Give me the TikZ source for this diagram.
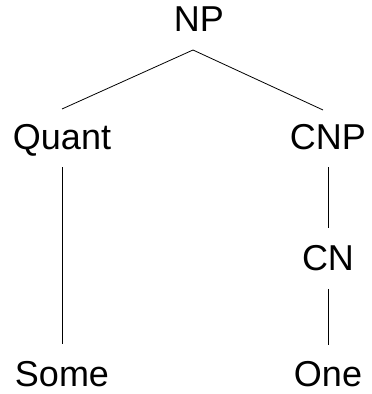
\documentclass[tikz,border=0pt]{standalone}
\usepackage{fontspec}
\setmainfont{Liberation Sans}
\usetikzlibrary{positioning}

\tikzset{
  cat/.style = {font=\fontsize{36}{36}\selectfont, inner sep=0pt,
                text height=25pt, text depth=0pt},
  branch/.style = {line width=0.8pt, shorten <=18pt, shorten >=17pt},
  split/.style = {line width=0.8pt},
}

\begin{document}
\begin{tikzpicture}
  \useasboundingbox (0,0) rectangle (372pt,394pt);

  % Define nodes
  \node [cat, anchor=south] (np) at (199pt,362pt) {NP};
  \node [cat, below = 92pt of np, xshift=-137pt] (quant) {Quant};
  \node [cat, below = 92pt of np, xshift=129pt] (cnp) {CNP};
  \node [cat, below = 96pt of cnp] (cn) {CN};
  \node [cat, below = 91pt of cn] (one) {One};
  \node [cat, below = 212pt of quant] (some) {Some};

  \coordinate (fork) at ([xshift=-6pt, yshift=-18pt]np.south);

  % Draw edges
  \draw [split] (fork) -- ([yshift=15pt]quant.north);
  \draw [split] (fork) -- ([xshift=-5pt, yshift=14pt]cnp.north);
  \draw [branch] (quant.south) -- (some.north);
  \draw [branch] (cnp.south) -- (cn.north);
  \draw [branch] (cn.south) -- (one.north);
\end{tikzpicture}
\end{document}
